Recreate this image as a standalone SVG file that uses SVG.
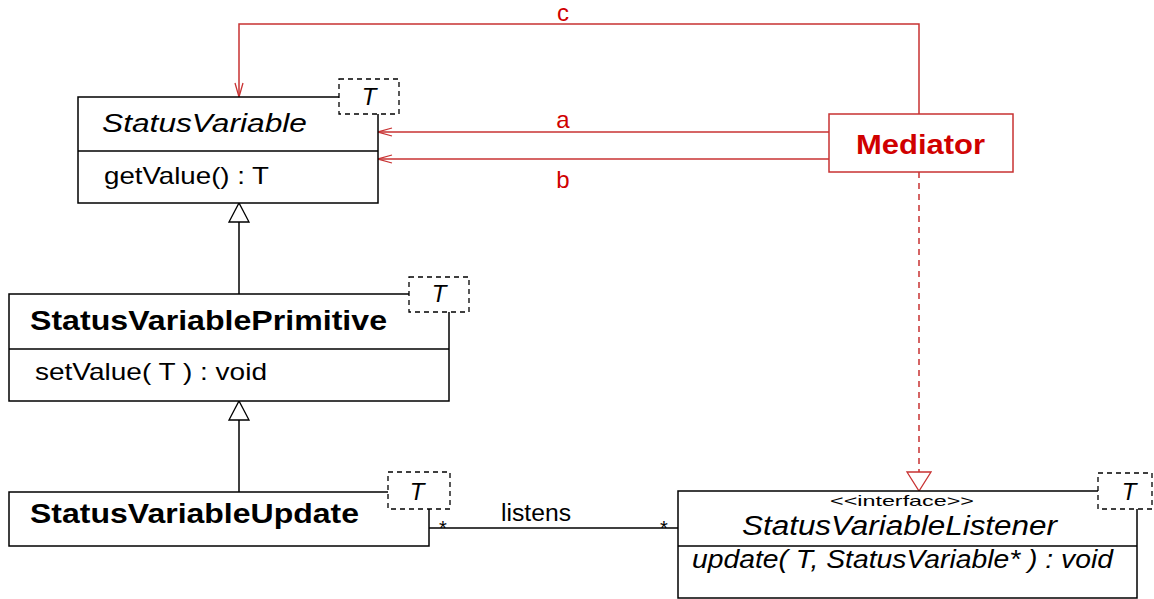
<svg xmlns="http://www.w3.org/2000/svg" width="1154" height="599" viewBox="0 0 1154 599">
<style>
.box{fill:#fff;stroke:#000;stroke-width:1.5}
.tbox{fill:#fff;stroke:#000;stroke-width:1.3;stroke-dasharray:5 4}
.div{stroke:#000;stroke-width:1.5}
.txt{font-family:"Liberation Sans",Arial,sans-serif;fill:#000}
.it{font-style:italic}
.bd{font-weight:bold}
.red{fill:#d00000}
.rline{fill:none;stroke:#c83232;stroke-width:1.5}
.bline{fill:none;stroke:#000;stroke-width:1.5}
.mbox{fill:#fff;stroke:#c83232;stroke-width:1.5}
</style>
<defs>
<marker id="openArrow" markerUnits="userSpaceOnUse" markerWidth="16" markerHeight="10" viewBox="0 0 16 10" refX="15" refY="5" orient="auto">
<path d="M1,1 L15,5 L1,9" fill="none" stroke="#c83232" stroke-width="1.3"/>
</marker>
<marker id="genTri" markerUnits="userSpaceOnUse" markerWidth="22" markerHeight="24" viewBox="0 0 22 24" refX="20" refY="11" orient="auto">
<path d="M1,1 L20,11 L1,21 Z" fill="#fff" stroke="#000" stroke-width="1.3"/>
</marker>
<marker id="realTri" markerUnits="userSpaceOnUse" markerWidth="22" markerHeight="28" viewBox="0 0 22 28" refX="20" refY="13" orient="auto">
<path d="M1,1 L20,13 L1,25 Z" fill="#fff" stroke="#c83232" stroke-width="1.3"/>
</marker>
</defs>
<rect width="1154" height="599" fill="#fff"/>

<g id="connectors">
<path class="rline" d="M919,114 V24 H239 V97" marker-end="url(#openArrow)"/>
<path class="rline" d="M829,132 H378" marker-end="url(#openArrow)"/>
<path class="rline" d="M829,159 H378" marker-end="url(#openArrow)"/>
<path class="rline" d="M919,172 V491" stroke-dasharray="6 5" marker-end="url(#realTri)"/>
<path class="bline" d="M239,294 V203" marker-end="url(#genTri)"/>
<path class="bline" d="M239,492 V401" marker-end="url(#genTri)"/>
<path class="bline" d="M429,528 H678"/>
<text class="txt red" x="563" y="21" font-size="24" text-anchor="middle">c</text>
<text class="txt red" x="563" y="128" font-size="24" text-anchor="middle">a</text>
<text class="txt red" x="563" y="188" font-size="24" text-anchor="middle">b</text>
<text class="txt" x="501" y="521" font-size="23" textLength="70" lengthAdjust="spacingAndGlyphs">listens</text>
<text class="txt" x="443" y="535" font-size="20" text-anchor="middle">*</text>
<text class="txt" x="664" y="535" font-size="20" text-anchor="middle">*</text>
</g>

<g id="StatusVariable">
<rect class="box" x="78" y="97" width="300" height="106"/>
<line class="div" x1="78" y1="151" x2="378" y2="151"/>
<rect class="tbox" x="339" y="79" width="60" height="35"/>
<text class="txt it" x="369" y="105" font-size="24" text-anchor="middle">T</text>
<text class="txt it" x="102" y="132" font-size="25" textLength="205" lengthAdjust="spacingAndGlyphs">StatusVariable</text>
<text class="txt" x="104" y="184" font-size="24" textLength="165" lengthAdjust="spacingAndGlyphs">getValue() : T</text>
</g>

<g id="StatusVariablePrimitive">
<rect class="box" x="9" y="294" width="440" height="107"/>
<line class="div" x1="9" y1="349" x2="449" y2="349"/>
<rect class="tbox" x="409" y="277" width="60" height="35"/>
<text class="txt it" x="439" y="302" font-size="24" text-anchor="middle">T</text>
<text class="txt bd" x="30" y="330" font-size="28" textLength="357" lengthAdjust="spacingAndGlyphs">StatusVariablePrimitive</text>
<text class="txt" x="35" y="380" font-size="24" textLength="232" lengthAdjust="spacingAndGlyphs">setValue( T ) : void</text>
</g>

<g id="StatusVariableUpdate">
<rect class="box" x="9" y="492" width="420" height="54"/>
<rect class="tbox" x="388" y="472" width="62" height="37"/>
<text class="txt it" x="417" y="500" font-size="24" text-anchor="middle">T</text>
<text class="txt bd" x="30" y="523" font-size="28" textLength="329" lengthAdjust="spacingAndGlyphs">StatusVariableUpdate</text>
</g>

<g id="StatusVariableListener">
<rect class="box" x="678" y="491" width="459" height="107"/>
<line class="div" x1="678" y1="546" x2="1137" y2="546"/>
<rect class="tbox" x="1098" y="473" width="54" height="36"/>
<text class="txt it" x="1129" y="500" font-size="24" text-anchor="middle">T</text>
<text class="txt" x="830" y="506" font-size="15" textLength="144" lengthAdjust="spacingAndGlyphs">&lt;&lt;interface&gt;&gt;</text>
<text class="txt it" x="742" y="535" font-size="27" textLength="315" lengthAdjust="spacingAndGlyphs">StatusVariableListener</text>
<text class="txt it" x="692" y="568" font-size="25" textLength="421" lengthAdjust="spacingAndGlyphs">update( T, StatusVariable* ) : void</text>
</g>

<g id="Mediator">
<rect class="mbox" x="829" y="114" width="184" height="58"/>
<text class="txt bd red" x="856" y="154" font-size="28" textLength="129" lengthAdjust="spacingAndGlyphs">Mediator</text>
</g>
</svg>
